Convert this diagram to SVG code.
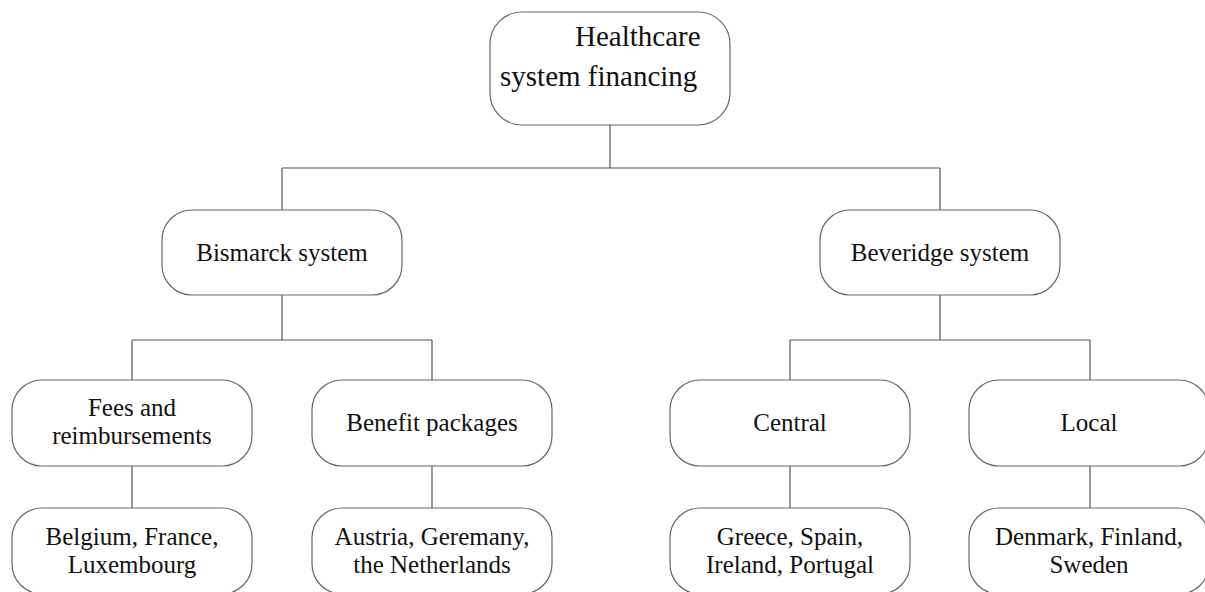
<svg xmlns="http://www.w3.org/2000/svg" width="1205" height="592" viewBox="0 0 1205 592">
<style>
.box{fill:#fff;stroke:#666;stroke-width:1.2}
.t{font-family:"Liberation Serif","Times New Roman",serif;font-size:25px;fill:#111;text-anchor:middle}
.tt{font-family:"Liberation Serif","Times New Roman",serif;font-size:29px;fill:#111}
.c{fill:none;stroke:#555;stroke-width:1.2}
</style>
<rect width="1205" height="592" fill="#fff"/>
<g id="connectors">
<path class="c" d="M610 125V168M282 168H940M282 168V210M940 168V210"/>
<path class="c" d="M282 295V340M132 340H432M132 340V380M432 340V380M132 466V508M432 466V508"/>
<path class="c" d="M940 295V340M790 340H1090M790 340V380M1090 340V380M790 466V508M1090 466V508"/>
</g>
<g id="n-root"><rect class="box" x="490" y="12" width="240" height="113" rx="32"/><text class="tt" x="575" y="46">Healthcare</text><text class="tt" x="500" y="86">system financing</text></g>
<g id="n-bismarck"><rect class="box" x="162" y="210" width="240" height="85" rx="30"/><text class="t" x="282" y="261">Bismarck system</text></g>
<g id="n-beveridge"><rect class="box" x="820" y="210" width="240" height="85" rx="30"/><text class="t" x="940" y="261">Beveridge system</text></g>
<g id="n-fees"><rect class="box" x="12" y="380" width="240" height="86" rx="30"/><text class="t" x="132" y="416">Fees and</text><text class="t" x="132" y="444">reimbursements</text></g>
<g id="n-benefit"><rect class="box" x="312" y="380" width="240" height="86" rx="30"/><text class="t" x="432" y="431">Benefit packages</text></g>
<g id="n-central"><rect class="box" x="670" y="380" width="240" height="86" rx="30"/><text class="t" x="790" y="431">Central</text></g>
<g id="n-local"><rect class="box" x="969" y="380" width="240" height="86" rx="30"/><text class="t" x="1089" y="431">Local</text></g>
<g id="n-bismarck1"><rect class="box" x="12" y="508" width="240" height="86" rx="30"/><text class="t" x="132" y="545">Belgium, France,</text><text class="t" x="132" y="573">Luxembourg</text></g>
<g id="n-bismarck2"><rect class="box" x="312" y="508" width="240" height="86" rx="30"/><text class="t" x="432" y="545">Austria, Geremany,</text><text class="t" x="432" y="573">the Netherlands</text></g>
<g id="n-central1"><rect class="box" x="670" y="508" width="240" height="86" rx="30"/><text class="t" x="790" y="545">Greece, Spain,</text><text class="t" x="790" y="573">Ireland, Portugal</text></g>
<g id="n-local1"><rect class="box" x="969" y="508" width="240" height="86" rx="30"/><text class="t" x="1089" y="545">Denmark, Finland,</text><text class="t" x="1089" y="573">Sweden</text></g>
</svg>
